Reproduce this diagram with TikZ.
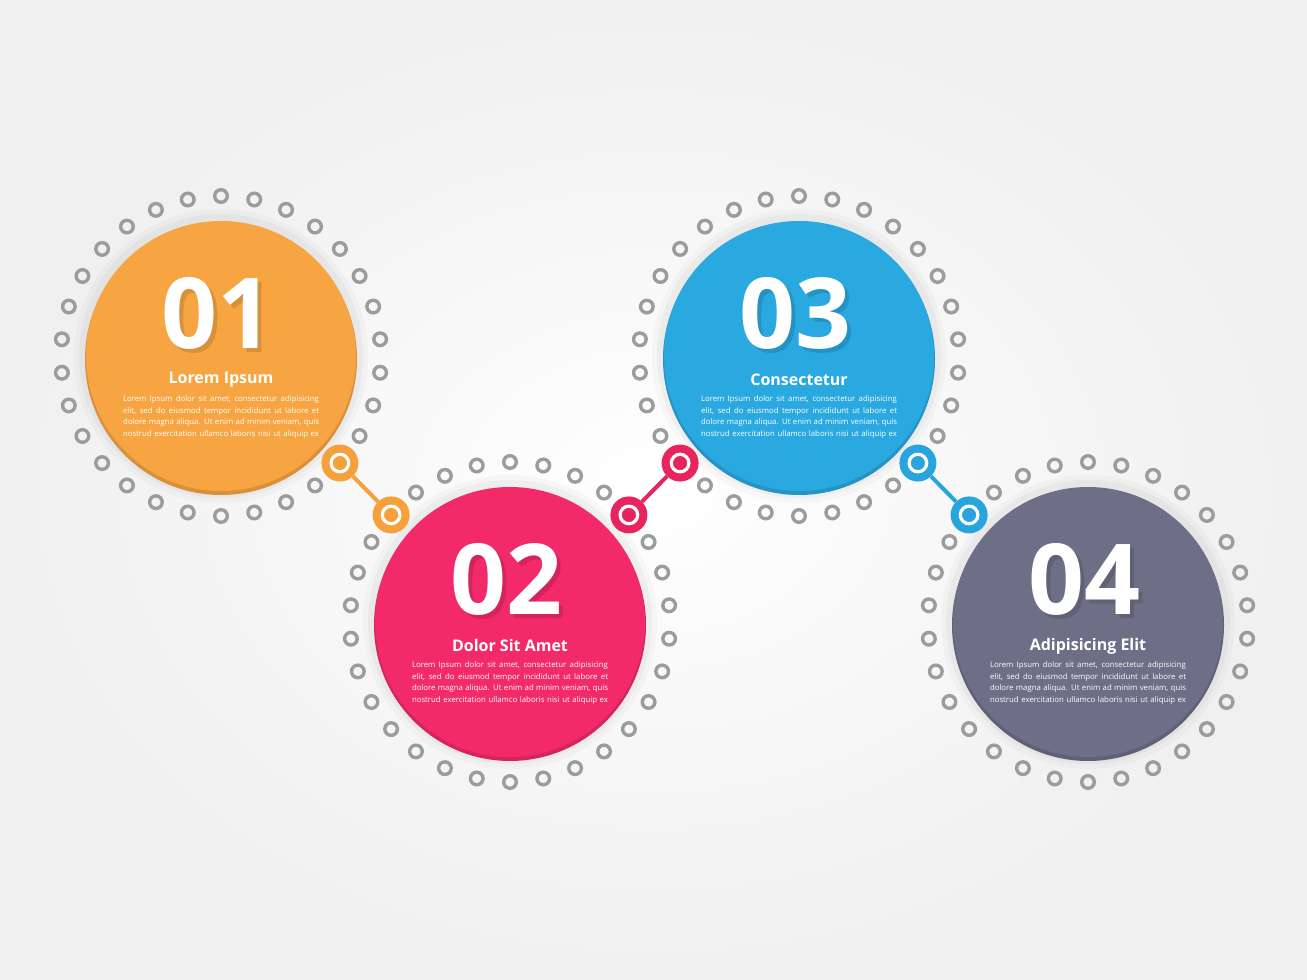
\documentclass[tikz,border=0pt]{standalone}
\usepackage{fontspec}
\setmainfont{Open Sans}
\usetikzlibrary{positioning,calc}

\definecolor{stepOrange}{HTML}{F7A442}
\definecolor{stepPink}{HTML}{F22A6A}
\definecolor{stepBlue}{HTML}{2AA8E0}
\definecolor{stepSlate}{HTML}{6C6F86}
\definecolor{linkOrange}{HTML}{F5A03A}
\definecolor{linkPink}{HTML}{E8245F}
\definecolor{linkBlue}{HTML}{28A4DE}
\definecolor{dotGray}{HTML}{9C9C9C}

\tikzset{
  bigdisc/.style={circle, minimum size=270, inner sep=0},
  ringdot/.style={draw=dotGray, line width=3.4},
  linkdot/.style={circle, fill=#1, minimum size=37, inner sep=0,
    path picture={\draw[white, line width=3.2] (path picture bounding box.center) circle (8.8);}},
  numtext/.style={text=white, font=\fontsize{98}{98}\selectfont\bfseries},
  headtext/.style={text=white, font=\fontsize{16}{19}\selectfont\bfseries},
  bodytext/.style={text=white, font=\fontsize{7.8}{11.4}\selectfont, align=center, inner sep=0}
}

\newcommand\loremlines{%
  \makebox[196pt][s]{Lorem Ipsum dolor sit amet, consectetur adipisicing}\\
  \makebox[196pt][s]{elit, sed do eiusmod tempor incididunt ut labore et}\\
  \makebox[196pt][s]{dolore magna aliqua. Ut enim ad minim veniam, quis}\\
  \makebox[196pt][s]{nostrud exercitation ullamco laboris nisi ut aliquip ex}}

% ring of small dots, two angles left out
\newcommand\dotring[3]{%
  \foreach \k in {0,...,29}{%
    \pgfmathtruncatemacro\ang{mod(90+12*\k,360)}
    \ifnum\ang=#2\relax\else\ifnum\ang=#3\relax\else
      \draw[ringdot] (#1) ++(\ang:160) circle (6.3);
    \fi\fi}}

% one step: centre, colour, number, title
\newcommand\stepdisc[4]{%
  \fill[black, opacity=0.025] (#1) circle (147);
  \fill[black, opacity=0.03] (#1) circle (142);
  \fill[#2!88!black] ($(#1)+(0,-3)$) circle (136);
  \node[bigdisc, fill=#2] (#1disc) at (#1) {};
  \coordinate (#1n) at ($(#1)+(-4,43)$);
  \node[numtext, text=#2!45!black, opacity=0.22] (#1sh) at ($(#1n)+(4,-4)$) {#3};
  \node[numtext] (#1num) at (#1n) {#3};
  \node[headtext] (#1head) at ($(#1)+(0,-24)$) {#4};
  \node[bodytext] (#1body) at ($(#1)+(0,-61)$) {\loremlines};
}

\begin{document}
\begin{tikzpicture}[x=1pt,y=1pt]
\useasboundingbox (0,0) rectangle (1307,980);
\shade[inner color=white, outer color=black!6] (0,0) rectangle (1307,980);

\coordinate (s1) at (221,624);
\coordinate (s2) at (510,358);
\coordinate (s3) at (799,624);
\coordinate (s4) at (1088,358);

\stepdisc{s1}{stepOrange}{01}{Lorem Ipsum}
\stepdisc{s2}{stepPink}{02}{Dolor Sit Amet}
\stepdisc{s3}{stepBlue}{03}{Consectetur}
\stepdisc{s4}{stepSlate}{04}{Adipisicing Elit}

\dotring{s1}{318}{-1}
\dotring{s2}{138}{42}
\dotring{s3}{222}{318}
\dotring{s4}{138}{-1}

% links
\node[linkdot=linkOrange] (k1a) at ($(s1)+(-42:160)$) {};
\node[linkdot=linkOrange] (k1b) at ($(s2)+(138:160)$) {};
\node[linkdot=linkPink] (k2a) at ($(s2)+(42:160)$) {};
\node[linkdot=linkPink] (k2b) at ($(s3)+(222:160)$) {};
\node[linkdot=linkBlue] (k3a) at ($(s3)+(-42:160)$) {};
\node[linkdot=linkBlue] (k3b) at ($(s4)+(138:160)$) {};
\draw[linkOrange, line width=4] (k1a) -- (k1b);
\draw[linkPink, line width=4] (k2a) -- (k2b);
\draw[linkBlue, line width=4] (k3a) -- (k3b);
\end{tikzpicture}
\end{document}
